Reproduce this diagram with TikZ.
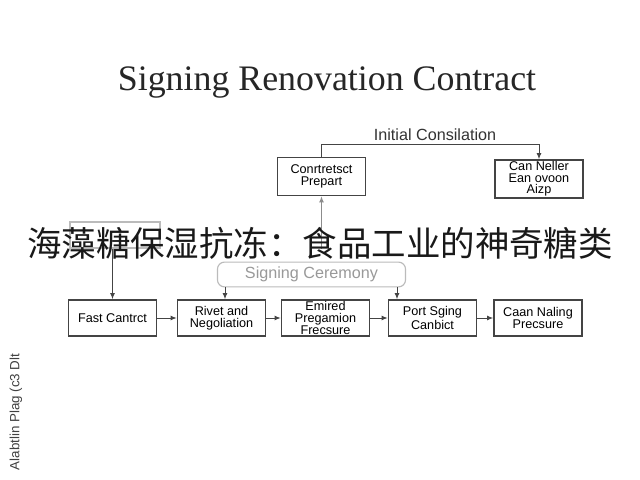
\documentclass[tikz,border=0pt]{standalone}
\usepackage{fontspec}
\setmainfont{Liberation Serif}
\setsansfont{Liberation Sans}
\newfontfamily\cjk{Noto Sans CJK SC}
\usepackage{xcolor}
\usetikzlibrary{arrows.meta,positioning,calc}
\definecolor{boxline}{HTML}{444444}
\definecolor{faint}{HTML}{BBBBBB}

\begin{document}
\begin{tikzpicture}[x=0.025cm, y=-0.025cm,
    bx/.style={rectangle, draw=boxline, fill=white, line width=0.9pt, minimum width=2.2cm, minimum height=0.9cm, inner sep=1pt, align=center, font=\sffamily\fontsize{9}{8.3}\selectfont},
    ar/.style={-{Latex[length=4.5pt,width=3.5pt]}, line width=0.7pt, draw=boxline}
]
    \useasboundingbox[fill=white] (0,0) rectangle (640,480);

    % Title
    \node[font=\fontsize{25.5}{28}\selectfont, text=black!85] (title) at (327,82) {Signing Renovation Contract};

    % Top boxes
    \node[bx, minimum height=0.95cm] (prep) at (321.5,176.5) {Conrtretsct\\Prepart};
    \node[bx, minimum height=0.95cm] (neller) at (539,179) {Can Neller\\Ean ovoon\\Aizp};
    \node[font=\sffamily\fontsize{11.5}{13}\selectfont, text=black!80] (init) at (435,135) {Initial Consilation};

    % Faint start box (behind the overlay)
    \node[bx, draw=faint, minimum width=2.25cm, minimum height=0.65cm] (start) at (115,235) {};

    % Bottom row
    \node[bx] (fast) at (112.5,318) {Fast Cantrct};
    \node[bx] (rivet) at (221.5,318) {Rivet and\\Negoliation};
    \node[bx] (emired) at (325.5,318) {Emired\\Pregamion\\Frecsure};
    \node[bx] (post) at (432.5,318) {Port Sging\\Canbict};
    \node[bx] (caan) at (538,318) {Caan Naling\\Precsure};

    % Signing ceremony
    \node[rectangle, rounded corners=5pt, draw=faint, line width=0.8pt, minimum width=4.7cm, minimum height=0.62cm, text=black!40, font=\sffamily\fontsize{11.5}{13}\selectfont] (cer) at (311.5,274.5) {Signing Ceremony};

    % Connections
    \draw[ar] (prep.north) -- ++(0,-12) -| (neller.north);
    \draw[ar, draw=black!45] (prep.south |- start.south) -- (prep.south);
    \draw[ar] (start.south -| fast.north) -- (fast.north);
    \draw[ar] (cer.south -| 225,0) -- (225,0 |- rivet.north);
    \draw[ar] (cer.south -| 397,0) -- (397,0 |- post.north);
    \draw[ar] (fast) -- (rivet);
    \draw[ar] (rivet) -- (emired);
    \draw[ar] (emired) -- (post);
    \draw[ar] (post) -- (caan);

    % Side note and overlay
    \node[rotate=90, font=\sffamily\fontsize{9.5}{11}\selectfont, text=black!75] (side) at (16,412) {Alabtlin Plag (c3 Dlt};
    \node[font=\cjk\fontsize{24.5}{28}\selectfont, text=black!90] (overlay) at (320,243) {海藻糖保湿抗冻：食品工业的神奇糖类};
\end{tikzpicture}
\end{document}
